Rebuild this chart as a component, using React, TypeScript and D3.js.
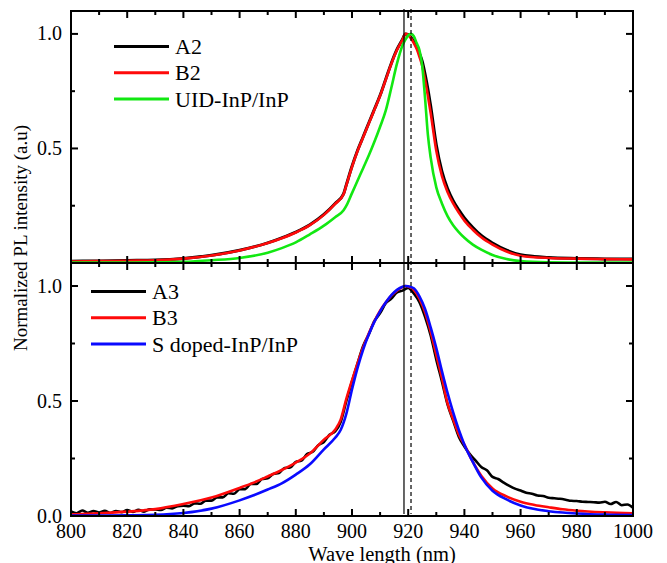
import React from "react";
import * as d3 from "d3";

// ---------- data ----------
const X_TICKS = [800, 820, 840, 860, 880, 900, 920, 940, 960, 980, 1000];
const X_MINOR = [810, 830, 850, 870, 890, 910, 930, 950, 970, 990];
const Y_TICKS_TOP = [0.5, 1.0];
const Y_TICKS_BOTTOM = [0.0, 0.5, 1.0];
const Y_MINOR = [0.25, 0.75];
const REF_SOLID = 918.5;
const REF_DASHED = 921;

// top panel
const WL_TOP = [800, 810, 820, 830, 840, 850, 860, 870, 875, 880, 885, 890, 894, 897, 898, 900, 902, 904, 906, 908, 910, 912, 914, 916, 918, 919, 920, 921, 922, 923, 924, 925, 926, 927, 928, 930, 932, 934, 936, 938, 940, 943, 946, 950, 955, 960, 970, 980, 990, 1000];
const A2 = [0.008, 0.009, 0.011, 0.013, 0.02, 0.034, 0.056, 0.088, 0.11, 0.135, 0.167, 0.212, 0.26, 0.302, 0.342, 0.422, 0.492, 0.552, 0.612, 0.672, 0.732, 0.802, 0.872, 0.932, 0.977, 1.0, 0.997, 0.985, 0.968, 0.945, 0.915, 0.88, 0.825, 0.76, 0.685, 0.515, 0.4, 0.325, 0.272, 0.232, 0.197, 0.155, 0.12, 0.087, 0.056, 0.036, 0.024, 0.02, 0.018, 0.017];
const B2 = [0.006, 0.008, 0.01, 0.012, 0.019, 0.033, 0.055, 0.087, 0.108, 0.133, 0.165, 0.21, 0.258, 0.3, 0.34, 0.42, 0.49, 0.55, 0.61, 0.67, 0.73, 0.8, 0.87, 0.93, 0.975, 1.0, 0.995, 0.98, 0.96, 0.935, 0.9, 0.86, 0.8, 0.73, 0.655, 0.49, 0.38, 0.31, 0.26, 0.22, 0.185, 0.145, 0.112, 0.08, 0.05, 0.032, 0.022, 0.019, 0.017, 0.016];
const UID = [0.002, 0.002, 0.002, 0.003, 0.005, 0.012, 0.022, 0.045, 0.065, 0.09, 0.125, 0.163, 0.2, 0.23, 0.25, 0.305, 0.36, 0.415, 0.47, 0.53, 0.595, 0.665, 0.765, 0.87, 0.95, 0.975, 0.993, 1.0, 0.99, 0.96, 0.93, 0.86, 0.72, 0.56, 0.46, 0.33, 0.26, 0.205, 0.165, 0.135, 0.11, 0.08, 0.058, 0.035, 0.017, 0.008, 0.003, 0.002, 0.002, 0.002];

// bottom panel
const WL_BOT = [800, 810, 820, 830, 840, 850, 860, 865, 870, 875, 880, 885, 890, 894, 896, 898, 900, 902, 904, 906, 908, 910, 912, 914, 916, 918, 919, 920, 922, 924, 926, 928, 930, 932, 934, 936, 938, 940, 943, 946, 950, 955, 960, 965, 970, 975, 980, 990, 1000];
const B3 = [0.007, 0.012, 0.019, 0.03, 0.052, 0.08, 0.122, 0.145, 0.172, 0.2, 0.232, 0.272, 0.332, 0.375, 0.42, 0.51, 0.59, 0.665, 0.735, 0.795, 0.848, 0.893, 0.928, 0.958, 0.98, 0.995, 1.0, 0.998, 0.983, 0.945, 0.885, 0.8, 0.7, 0.6, 0.49, 0.42, 0.355, 0.31, 0.235, 0.175, 0.12, 0.085, 0.062, 0.048, 0.038, 0.029, 0.023, 0.016, 0.012];
const S3 = [0.002, 0.002, 0.003, 0.005, 0.013, 0.032, 0.068, 0.09, 0.115, 0.142, 0.18, 0.225, 0.29, 0.34, 0.375, 0.445, 0.55, 0.645, 0.725, 0.79, 0.845, 0.89, 0.928, 0.96, 0.983, 0.997, 1.0, 0.999, 0.99, 0.955, 0.9, 0.82, 0.73, 0.63, 0.535, 0.45, 0.375, 0.31, 0.235, 0.168, 0.11, 0.072, 0.046, 0.03, 0.021, 0.015, 0.011, 0.006, 0.004];

const WL_A3 = d3.range(800, 1001, 2);
const A3 = [
  0.02, 0.012, 0.024, 0.014, 0.022, 0.015, 0.023, 0.013, 0.022, 0.017,
  0.026, 0.018, 0.027, 0.019, 0.029, 0.028, 0.026, 0.036, 0.033, 0.043,
  0.045, 0.043, 0.055, 0.053, 0.067, 0.067, 0.081, 0.081, 0.099, 0.097,
  0.116, 0.117, 0.139, 0.139, 0.161, 0.164, 0.183, 0.187, 0.209, 0.211,
  0.235, 0.241, 0.269, 0.279, 0.308, 0.322, 0.353, 0.368, 0.41, 0.5,
  0.585, 0.665, 0.74, 0.79, 0.848, 0.882, 0.925, 0.945, 0.972, 0.98,
  0.992, 0.968, 0.93, 0.866, 0.785, 0.68, 0.585, 0.485, 0.415, 0.345,
  0.302, 0.268, 0.241, 0.213, 0.199, 0.17, 0.161, 0.145, 0.131, 0.119,
  0.111, 0.101, 0.097, 0.089, 0.087, 0.079, 0.077, 0.075, 0.071, 0.066,
  0.065, 0.062, 0.061, 0.06, 0.058, 0.062, 0.052, 0.061, 0.047, 0.05,
  0.036,
];

// ---------- layout ----------
const W = 667;
const H = 563;
const L = 71;
const R = 633;
const TOP_T = 11;
const MID = 263;
const BOT_B = 516;

const x = d3.scaleLinear().domain([800, 1000]).range([L, R]);
const yTop = d3.scaleLinear().domain([0, 1.1]).range([MID, TOP_T]);
const yBot = d3.scaleLinear().domain([0, 1.1]).range([BOT_B, MID]);

const FONT = "Times New Roman";

function makePath(wl: number[], vals: number[], y: d3.ScaleLinear<number, number>) {
  const pts: [number, number][] = wl.map((w, i) => [w, vals[i]]);
  return d3
    .line<[number, number]>()
    .x((d) => x(d[0]))
    .y((d) => y(d[1]))
    .curve(d3.curveMonotoneX)(pts) as string;
}

function Frame({ y, top, bottom, labels }: { y: d3.ScaleLinear<number, number>; top: number; bottom: number; labels: number[] }) {
  const MAJ = 7;
  const MIN = 4;
  return (
    <g>
      <rect x={L} y={top} width={R - L} height={bottom - top} fill="none" stroke="#000" strokeWidth={2} />
      {X_TICKS.map((t) => (
        <g key={"xt" + t}>
          <line x1={x(t)} x2={x(t)} y1={bottom} y2={bottom - MAJ} stroke="#000" strokeWidth={2} />
          <line x1={x(t)} x2={x(t)} y1={top} y2={top + MAJ} stroke="#000" strokeWidth={2} />
        </g>
      ))}
      {X_MINOR.map((t) => (
        <g key={"xm" + t}>
          <line x1={x(t)} x2={x(t)} y1={bottom} y2={bottom - MIN} stroke="#000" strokeWidth={2} />
          <line x1={x(t)} x2={x(t)} y1={top} y2={top + MIN} stroke="#000" strokeWidth={2} />
        </g>
      ))}
      {[0.5, 1.0].map((t) => (
        <g key={"yt" + t}>
          <line x1={L} x2={L + MAJ} y1={y(t)} y2={y(t)} stroke="#000" strokeWidth={2} />
          <line x1={R} x2={R - MAJ} y1={y(t)} y2={y(t)} stroke="#000" strokeWidth={2} />
        </g>
      ))}
      {Y_MINOR.map((t) => (
        <g key={"ym" + t}>
          <line x1={L} x2={L + MIN} y1={y(t)} y2={y(t)} stroke="#000" strokeWidth={2} />
          <line x1={R} x2={R - MIN} y1={y(t)} y2={y(t)} stroke="#000" strokeWidth={2} />
        </g>
      ))}
      {labels.map((t) => (
        <text key={"yl" + t} x={62} y={y(t) + 6.5} textAnchor="end" fontFamily={FONT} fontSize={20} fill="#000">
          {t.toFixed(1)}
        </text>
      ))}
    </g>
  );
}

function Legend({ x0, y0, items }: { x0: number; y0: number; items: { label: string; color: string }[] }) {
  const step = 26.3;
  return (
    <g>
      {items.map((it, i) => (
        <g key={it.label}>
          <line x1={x0} x2={x0 + 55} y1={y0 + i * step} y2={y0 + i * step} stroke={it.color} strokeWidth={3} />
          <text x={x0 + 61} y={y0 + i * step + 7.5} fontFamily={FONT} fontSize={22} fill="#000">
            {it.label}
          </text>
        </g>
      ))}
    </g>
  );
}

const BLACK = "#000000";
const RED = "#ff0a0a";
const GREEN = "#12e812";
const BLUE = "#0a0aff";

export default function App() {
  return (
    <svg width={W} height={H} fontFamily={FONT} style={{ position: "absolute", left: 0, top: 0 }}>
      <rect x={0} y={0} width={W} height={H} fill="#fff" />
      {/* curves top */}
      <path d={makePath(WL_TOP, A2, yTop)} fill="none" stroke={BLACK} strokeWidth={3} />
      <path d={makePath(WL_TOP, B2, yTop)} fill="none" stroke={RED} strokeWidth={2.6} />
      <path d={makePath(WL_TOP, UID, yTop)} fill="none" stroke={GREEN} strokeWidth={2.6} />
      {/* curves bottom */}
      <path d={makePath(WL_A3, A3, yBot)} fill="none" stroke={BLACK} strokeWidth={2.6} strokeLinejoin="round" />
      <path d={makePath(WL_BOT, B3, yBot)} fill="none" stroke={RED} strokeWidth={2.6} />
      <path d={makePath(WL_BOT, S3, yBot)} fill="none" stroke={BLUE} strokeWidth={2.6} />
      {/* reference lines */}
      <line x1={x(REF_SOLID)} x2={x(REF_SOLID)} y1={9} y2={BOT_B - 2} stroke="#000" strokeWidth={1.2} />
      <line x1={x(REF_DASHED)} x2={x(REF_DASHED)} y1={9} y2={BOT_B - 2} stroke="#000" strokeWidth={1.2} strokeDasharray="4,3" />
      {/* frames */}
      <Frame y={yTop} top={TOP_T} bottom={MID} labels={Y_TICKS_TOP} />
      <Frame y={yBot} top={MID} bottom={BOT_B} labels={Y_TICKS_BOTTOM} />
      {/* x tick labels */}
      {X_TICKS.map((t) => (
        <text key={"xl" + t} x={x(t)} y={537.5} textAnchor="middle" fontFamily={FONT} fontSize={20} fill="#000">
          {t}
        </text>
      ))}
      <text x={382} y={560.5} textAnchor="middle" fontFamily={FONT} fontSize={20.5} fill="#000">
        Wave length (nm)
      </text>
      <text transform={`translate(27,238) rotate(-90)`} textAnchor="middle" fontFamily={FONT} fontSize={19} fill="#000">
        Normalized PL intensity (a.u)
      </text>
      {/* legends */}
      <Legend
        x0={114}
        y0={46.5}
        items={[
          { label: "A2", color: BLACK },
          { label: "B2", color: RED },
          { label: "UID-InP/InP", color: GREEN },
        ]}
      />
      <Legend
        x0={91}
        y0={291.5}
        items={[
          { label: "A3", color: BLACK },
          { label: "B3", color: RED },
          { label: "S doped-InP/InP", color: BLUE },
        ]}
      />
    </svg>
  );
}
